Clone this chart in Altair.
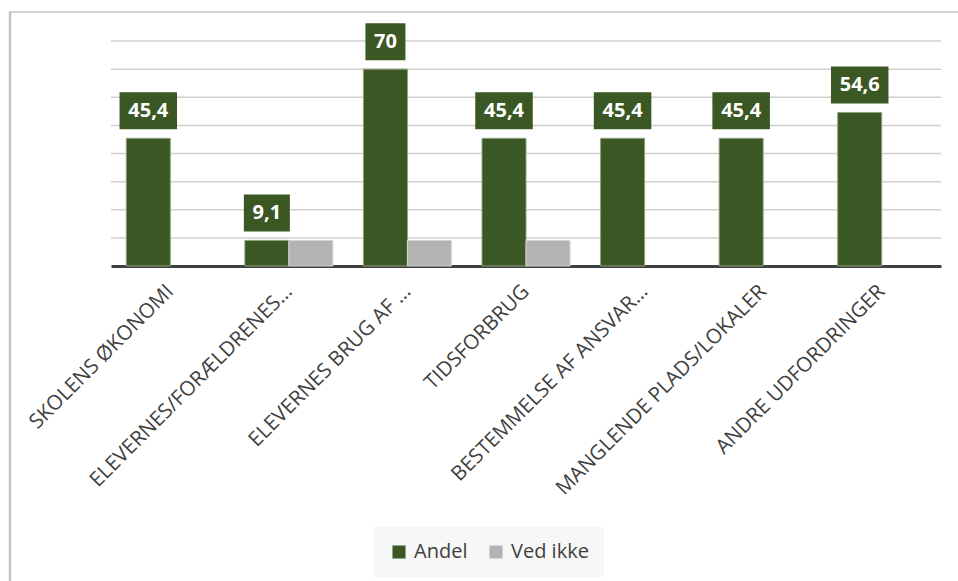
import altair as alt
import pandas as pd

categories = [
    "SKOLENS ØKONOMI",
    "ELEVERNES/FORÆLDRENES…",
    "ELEVERNES BRUG AF …",
    "TIDSFORBRUG",
    "BESTEMMELSE AF ANSVAR…",
    "MANGLENDE PLADS/LOKALER",
    "ANDRE UDFORDRINGER",
]
andel = [45.4, 9.1, 70, 45.4, 45.4, 45.4, 54.6]
ved_ikke = [None, 9.1, 9.1, 9.1, None, None, None]
series = ["Andel", "Ved ikke"]
grid_values = [10, 20, 30, 40, 50, 60, 70, 80]
colors = ["#3B5723", "#B3B3B3"]
strokes = ["#8DA07C", "#D6D6D6"]

rows = []
for c, a, v in zip(categories, andel, ved_ikke):
    if a is not None:
        rows.append({"kategori": c, "serie": "Andel", "vaerdi": a,
                     "label": str(a).replace(".", ",")})
    if v is not None:
        rows.append({"kategori": c, "serie": "Ved ikke", "vaerdi": v,
                     "label": str(v).replace(".", ",")})
df = pd.DataFrame(rows)
grid_df = pd.DataFrame({"vaerdi": grid_values})

FONT = "Open Sans"

x_axis = alt.Axis(labelAngle=-45, labelFont=FONT, labelFontSize=20.5,
                  labelColor="#404040", labelPadding=15, labelOffset=-7,
                  ticks=False, domainColor="#404040", domainWidth=3,
                  labelLimit=400, grid=False)
x_scale = alt.Scale(paddingInner=0.258, paddingOuter=0.129)
y_scale = alt.Scale(domain=[0, 80], nice=False)


def xe():
    return alt.X("kategori:N", sort=categories, title=None, scale=x_scale,
                 axis=x_axis)


def xoe():
    return alt.XOffset("serie:N", sort=series,
                       scale=alt.Scale(paddingInner=0, paddingOuter=0))


def ye():
    return alt.Y("vaerdi:Q", scale=y_scale, title=None, axis=None)


grid = alt.Chart(grid_df).mark_rule(color="#D0D0D0", strokeWidth=1.5).encode(
    y=ye(), x=alt.value(0), x2=alt.value(830))

bars = alt.Chart(df).mark_bar(strokeWidth=1).encode(
    x=xe(),
    xOffset=xoe(),
    y=ye(),
    fill=alt.Fill("serie:N", sort=series, title=None,
                  scale=alt.Scale(domain=series, range=colors),
                  legend=alt.Legend(orient="none", legendX=263, legendY=486,
                                    direction="horizontal",
                                    fillColor="#F7F7F7", padding=15,
                                    symbolType="square", symbolSize=170,
                                    symbolStrokeWidth=0,
                                    labelFont=FONT, labelFontSize=20,
                                    labelColor="#404040", columnPadding=18,
                                    labelOffset=5)),
    stroke=alt.Stroke("serie:N", scale=alt.Scale(domain=series, range=strokes),
                      legend=None),
)

lab = alt.Chart(df).transform_filter(alt.datum.serie == "Andel").transform_calculate(
    bw="length(replace(datum.label, ',', '')) * 11.5 + (indexof(datum.label, ',') >= 0 ? 6 : 0) + 17"
)

boxes = lab.mark_bar(yOffset=-46, y2Offset=-9, color="#3B5723").encode(
    x=xe(),
    xOffset=xoe(),
    y=ye(),
    y2="vaerdi:Q",
    size=alt.Size("bw:Q", scale=None, legend=None),
)

texts = lab.mark_text(dy=-27.5, font=FONT, fontSize=20, fontWeight="bold",
                      color="white", baseline="middle").encode(
    x=xe(),
    xOffset=xoe(),
    y=ye(),
    text="label:N",
)

one = pd.DataFrame({"d": [0]})
top_border = alt.Chart(one).mark_rule(color="#C4C4C4", strokeWidth=1.5).encode(
    x=alt.value(-102), x2=alt.value(860), y=alt.value(-29))
left_border = alt.Chart(one).mark_rule(color="#C4C4C4", strokeWidth=2.5).encode(
    x=alt.value(-101), y=alt.value(-29), y2=alt.value(560))

chart = alt.layer(grid, bars, boxes, texts, top_border, left_border).properties(
    width=830, height=225,
    padding={"left": 111, "top": 41, "right": 17, "bottom": 315},
    autosize=alt.AutoSizeParams(type="none"),
    background="white",
).configure_view(stroke=None)

chart.save("out.html", embed_options={"renderer": "svg", "actions": False})
